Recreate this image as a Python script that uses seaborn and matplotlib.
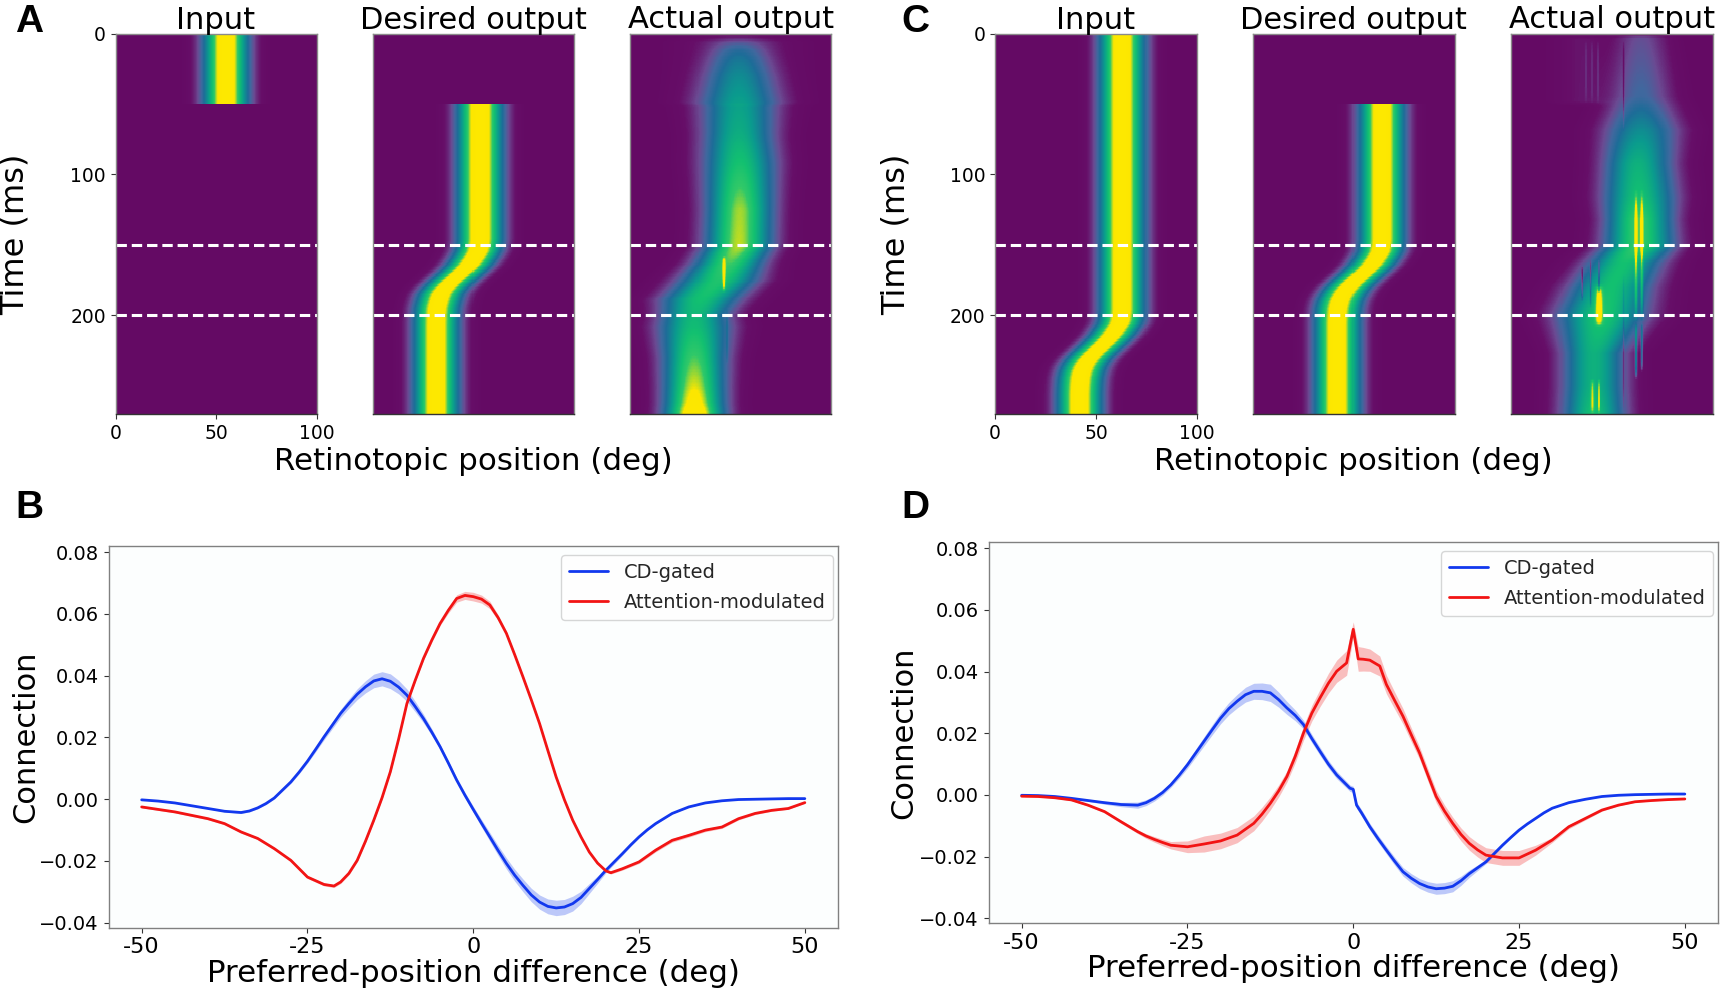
import numpy as np
import pandas as pd
import matplotlib
matplotlib.use("Agg")
import matplotlib.pyplot as plt
from matplotlib.colors import LinearSegmentedColormap
import seaborn as sns

W, H = 1723, 992
sns.set_theme(style="white")
plt.rcParams["font.family"] = "DejaVu Sans"

# ---------- line data (deg, connection) ----------
b_blue_x = [-50,-47.5,-45,-42.5,-40,-37.5,-35,-33.75,-32.5,-31.25,-30,-28.75,-27.5,-26.25,-25,-23.75,-22.5,-21.25,-20,-18.75,-17.5,-16.25,-15,-13.75,-12.5,-11.25,-10,-8.75,-7.5,-6.25,-5,-3.75,-2.5,-1.25,0,1.25,2.5,3.75,5,6.25,7.5,8.75,10,11.25,12.5,13.75,15,16.25,17.5,18.75,20,21.25,22.5,23.75,25,26.25,27.5,30,32.5,35,37.5,40,42.5,45,47.5,50]
b_blue_y = [-.0002,-.0006,-.0012,-.0021,-.0030,-.0039,-.0043,-.0038,-.0028,-.0014,.0004,.0030,.0056,.0088,.0123,.0162,.0202,.0240,.0278,.0310,.0340,.0364,.0383,.0390,.0382,.0363,.0337,.0300,.0261,.0217,.0170,.0117,.0062,.0013,-.0033,-.0078,-.0122,-.0166,-.0208,-.0246,-.0279,-.0310,-.0333,-.0347,-.0352,-.0349,-.0338,-.0318,-.0289,-.0260,-.0230,-.0203,-.0176,-.0148,-.0122,-.0099,-.0079,-.0046,-.0025,-.0012,-.0005,-.0001,.0000,.0001,.0002,.0002]
b_blue_ex = [-50,-40,-35,-30,-25,-20,-15,-12.5,-10,-5,-2.5,0,5,10,12.5,15,20,25,30,40,50]
b_blue_ev = [0,.0001,.0003,.0003,.0006,.0013,.0022,.0024,.0020,.0008,.0008,.0010,.0018,.0023,.0025,.0024,.0008,.0003,.0001,0,0]
b_red_x = [-50,-47.5,-45,-42.5,-40,-37.5,-35,-32.5,-30,-27.5,-25,-22.5,-21,-20,-18.75,-17.5,-16.25,-15,-13.75,-12.5,-11.25,-10,-8.75,-7.5,-6.25,-5,-3.75,-2.5,-1.25,0,1.25,2.5,3.75,5,6.25,7.5,8.75,10,11.25,12.5,13.75,15,16.25,17.5,18.75,20,20.75,22.5,25,27.5,30,32.5,35,37.5,40,42.5,45,47.5,50]
b_red_y = [-.0025,-.0033,-.0041,-.0052,-.0063,-.0079,-.0106,-.0127,-.0160,-.0198,-.0252,-.0276,-.0281,-.0268,-.0240,-.0198,-.0136,-.0068,.0005,.0089,.0195,.0310,.0385,.0456,.0515,.0569,.0612,.0650,.0660,.0656,.0648,.0629,.0588,.0537,.0468,.0396,.0322,.0245,.0158,.0072,-.0002,-.0068,-.0122,-.0171,-.0207,-.0232,-.0238,-.0225,-.0203,-.0165,-.0133,-.0117,-.0100,-.0090,-.0063,-.0046,-.0036,-.0030,-.0011]
b_red_ex = [-50,-30,-20,-10,-5,-2.5,0,2.5,5,10,20,30,40,50]
b_red_ev = [.0003,.0004,.0005,.0004,.0006,.0012,.0014,.0012,.0006,.0003,.0004,.0006,.0004,.0002]
d_blue_x = [-50,-47.5,-45,-42.5,-40,-37.5,-35,-32.5,-31.25,-30,-28.75,-27.5,-26.25,-25,-23.75,-22.5,-21.25,-20,-18.75,-17.5,-16.25,-15,-13.75,-12.5,-11.25,-10,-8.75,-7.5,-6.25,-5,-3.75,-2.5,-.5,0,.5,1.25,2.5,3.75,5,6.25,7.5,8.75,10,11.25,12.5,13.75,15,16.25,17.5,18.75,20,21.25,22.5,23.75,25,26.25,27.5,28.75,30,32.5,35,37.5,40,42.5,45,47.5,50]
d_blue_y = [-.0001,-.0002,-.0005,-.0011,-.0018,-.0025,-.0031,-.0033,-.0025,-.0011,.0008,.0033,.0064,.0098,.0136,.0174,.0212,.0249,.0280,.0304,.0325,.0336,.0336,.0331,.0309,.0282,.0258,.0228,.0183,.0141,.0100,.0065,.0022,.0018,-.0033,-.0058,-.0103,-.0142,-.0179,-.0215,-.0249,-.0270,-.0287,-.0298,-.0304,-.0302,-.0296,-.0278,-.0255,-.0236,-.0217,-.0190,-.0163,-.0138,-.0114,-.0094,-.0076,-.0058,-.0043,-.0025,-.0014,-.0005,-.0001,.0001,.0002,.0003,.0003]
d_blue_ex = [-50,-40,-35,-32.5,-27.5,-20,-15,-12.5,-7.5,-2.5,0,5,10,12.5,15,20,25,30,50]
d_blue_ev = [.0001,.0003,.0007,.0010,.0008,.0018,.0026,.0028,.0014,.0012,.0010,.0012,.0016,.0018,.0018,.0006,.0002,.0001,0]
d_red_x = [-50,-47.5,-45,-42.5,-40,-37.5,-35,-33.75,-32.5,-31.25,-30,-28.75,-27.5,-25,-22.5,-20,-17.5,-15,-13.75,-12.5,-11.25,-10,-8.75,-7.5,-6.25,-5,-3.75,-2.5,-1,0,.75,1.5,2.5,4,5,6.25,7.5,8.75,10,11.25,12.5,13.75,15,16.25,17.5,18.75,20,22.5,25,27.5,30,32.5,35,37.5,40,42.5,45,47.5,50]
d_red_y = [-.0004,-.0005,-.0009,-.0016,-.0033,-.0054,-.0087,-.0103,-.0119,-.0133,-.0144,-.0154,-.0163,-.0168,-.0159,-.0149,-.0130,-.0092,-.0062,-.0027,.0013,.0060,.0125,.0201,.0265,.0315,.0362,.0401,.0428,.0537,.0441,.0440,.0437,.0418,.0358,.0306,.0255,.0195,.0136,.0065,-.0005,-.0052,-.0092,-.0128,-.0157,-.0178,-.0195,-.0204,-.0204,-.0179,-.0146,-.0103,-.0076,-.0049,-.0033,-.0022,-.0018,-.0015,-.0013]
d_red_ex = [-50,-40,-32.5,-27.5,-22.5,-15,-10,-5,-2.5,-1,0,.75,2.5,5,10,15,20,25,30,40,50]
d_red_ev = [.0001,.0003,.0006,.0012,.0026,.0024,.0018,.0028,.0036,.0040,.0024,.0040,.0036,.0030,.0020,.0020,.0024,.0024,.0008,.0002,.0001]

# ---------- heat-map rows: time, centre, peak, spread ----------
a_in_t = [0, 49.5, 50.5, 270];  a_in_c = [55, 55, 55, 55];  a_in_p = [1, 1, 0, 0];  a_in_s = [7, 7, 7, 7]
a_des_t = [0, 49.5, 50.5, 146, 150, 155, 160, 165, 170, 175, 180, 185, 190, 195, 200, 206, 270]
a_des_c = [53.3, 53.3, 53.3, 53.3, 53, 52, 50, 47.5, 44, 40, 36.5, 34, 32.8, 32, 31.7, 31.6, 31.6]
a_des_p = [0, 0] + [1] * 15
a_des_s = [7] * 17
a_act_t = [0, 5, 12, 20, 30, 49, 51, 75, 92, 106, 125, 150, 163, 175, 189, 200, 208, 230, 250, 262, 270]
a_act_c = [54, 54, 54, 54, 54, 54, 54, 54, 54.5, 54.5, 54.5, 54, 49, 44, 35, 32, 32, 32, 32, 32, 32]
a_act_p = [0, .05, .18, .25, .31, .39, .45, .55, .63, .70, .78, .80, .72, .66, .62, .58, .60, .72, .82, .90, 1]
a_act_s = [9, 9, 9, 10, 11, 12.5, 12, 11.5, 11.5, 11, 10.5, 10.5, 11, 12.5, 12.5, 11, 11.5, 10, 9.5, 9.3, 9.3]
a_halo_t = [0, 6, 49, 52, 70, 270]; a_halo_c = [54] * 6; a_halo_p = [0, .09, .09, .03, 0, 0]; a_halo_s = [17] * 6
a_str_x = [46.5, 48.0]; a_str_t0 = [158, 195]; a_str_t1 = [184, 235]; a_str_a = [.30, .08]; a_str_w = [.5, .4]

c_in_t = [0, 196, 200, 205, 210, 215, 220, 225, 230, 235, 240, 245, 250, 256, 270]
c_in_c = [63, 63, 62.8, 62, 60, 57.5, 54, 50.5, 47, 44.5, 43, 42.3, 42, 41.8, 41.8]
c_in_p = [1] * 15
c_in_s = [7] * 15
c_des_t = [0, 49.5, 50.5, 146, 150, 155, 160, 165, 170, 175, 180, 185, 190, 195, 200, 206, 270]
c_des_c = [64, 64, 64, 64, 63.8, 63, 61, 58.5, 55, 51, 47.5, 45, 43.3, 42.5, 42.1, 42, 42]
c_des_p = [0, 0] + [1] * 15
c_des_s = [7] * 17
c_act_t = [0, 3, 45, 68, 92, 116, 132, 150, 163, 180, 200, 227, 250, 270]
c_act_c = [64.5, 64.5, 64.5, 64.5, 63, 63.5, 63.5, 63.5, 56, 49.5, 45, 41, 41, 41]
c_act_p = [0, .14, .22, .40, .55, .62, .72, .72, .62, .62, .65, .55, .55, .62]
c_act_s = [8, 8.5, 10, 12, 11, 11.4, 10.5, 11, 12, 13, 14, 10, 10, 10]
c_halo_t = [0, 4, 48, 52, 270]; c_halo_c = [35] * 5; c_halo_p = [0, .05, .05, 0, 0]; c_halo_s = [9] * 5
c_str_x = [62, 64.9, 62, 64.9, 55.8, 43.5, 43.5, 39.3, 35.1, 43.5, 40.2, 55.8, 37, 40, 43]
c_str_t0 = [110, 110, 205, 205, 170, 178, 160, 160, 165, 245, 245, 5, 5, 5, 5]
c_str_t1 = [205, 205, 245, 240, 270, 208, 185, 195, 190, 270, 270, 70, 50, 50, 50]
c_str_a = [.30, .30, .35, .25, -.10, .35, -.30, -.20, -.20, .35, .25, -.10, .05, .05, .06]
c_str_w = [.5, .5, .35, .35, .3, 1.2, .3, .3, .3, .3, .6, .3, .3, .3, .3]

titles = ["Input", "Desired output", "Actual output"]
t_ticks = [0, 100, 200]
pos_ticks = [0, 50, 100]
diff_ticks = [-50, -25, 0, 25, 50]
conn_ticks = [-.04, -.02, 0, .02, .04, .06, .08]
time_marks = [150, 200]

cmap = LinearSegmentedColormap.from_list("retina", [
    (0, "#640a64"), (.04, "#660e68"), (.13, "#6a4a92"), (.21, "#40689e"), (.29, "#1d6c98"),
    (.45, "#0a9a8e"), (.62, "#12c070"), (.71, "#30c868"), (.78, "#a0d830"), (.84, "#fce600"), (1, "#fde800")])

N_T, N_X = 270, 200
rows = np.arange(N_T) + .5
cols = (np.arange(N_X) + .5) / 2


def layer(t, c, p, s):
    ci, pi, si = [np.interp(rows, t, v)[:, None] for v in (c, p, s)]
    return pi * np.exp(-(cols[None, :] - ci) ** 2 / (2 * si ** 2))


def streaks(x, t0, t1, a, w):
    out = np.zeros((N_T, N_X))
    for xi, t_a, t_b, ai, wi in zip(x, t0, t1, a, w):
        mid, half = (t_a + t_b) / 2, (t_b - t_a) / 2
        taper = np.clip(1 - ((rows - mid) / half) ** 4, 0, 1)[:, None]
        out += ai * taper * np.exp(-(cols[None, :] - xi) ** 2 / (2 * wi ** 2))
    return out


def px_axes(x0, y0, x1, y1):
    return fig.add_axes([x0 / W, 1 - y1 / H, (x1 - x0) / W, (y1 - y0) / H])


fig = plt.figure(figsize=(W / 100, H / 100), dpi=100, facecolor="white")


def heat_row(x_spans, mats, letter, lx, letx):
    y0, y1 = 33.5, 414
    for i, ((a, b), m) in enumerate(zip(x_spans, mats)):
        ax = px_axes(a, y0, b, y1)
        sns.heatmap(np.clip(m, 0, 1), ax=ax, cmap=cmap, vmin=0, vmax=1, cbar=False,
                    xticklabels=False, yticklabels=False, rasterized=True)
        for s in ax.spines.values():
            s.set_visible(True); s.set_color("#8a8a8a"); s.set_linewidth(1)
        ax.spines["bottom"].set_color("#333333")
        for tm in time_marks:
            ax.axhline(tm, color="white", lw=2.2, ls=(0, (3.4, 1.6)))
        ax.set_title(titles[i], fontsize=22, pad=3.5, color="black")
        if i == 0:
            ax.set_yticks(t_ticks); ax.set_yticklabels(t_ticks, rotation=0, fontsize=13.5, color="black")
            ax.set_xticks([p * 2 for p in pos_ticks]); ax.set_xticklabels(pos_ticks, rotation=0, fontsize=13.5, color="black")
            ax.tick_params(left=True, bottom=True, length=3.5, width=.8, pad=3.5, color="#333333")
            ax.set_ylabel("Time (ms)", fontsize=23, color="black")
            ax.yaxis.set_label_coords((lx - a) / (b - a), .473)
        if i == 1:
            ax.set_xlabel("Retinotopic position (deg)", fontsize=22.2, color="black", labelpad=24)
    fig.text(letx / W, 1 - 22 / H, letter, fontsize=28, fontweight="bold",
             family="Liberation Sans", va="center", ha="left", color="black")


def line_panel(x0, y0, x1, y1, blue, red, letter, lpx, letx, lety, ylim):
    ax = px_axes(x0, y0, x1, y1)
    ax.set_facecolor("#fcfefe")
    for (x, y, ex, ev), col, name in ((blue, "#1238ee", "CD-gated"), (red, "#f21414", "Attention-modulated")):
        x, y = np.array(x), np.array(y)
        e = np.interp(x, ex, ev)
        df = pd.DataFrame({"x": x, "y": y})
        sns.lineplot(data=df, x="x", y="y", ax=ax, color=col, lw=2, label=name, errorbar=None)
        ax.fill_between(x, y - e, y + e, color=col, alpha=.27, lw=0)
    ax.set_xlim(-55, 55); ax.set_ylim(*ylim)
    ax.set_xticks(diff_ticks); ax.set_xticklabels([str(v) for v in diff_ticks], fontsize=16, color="black")
    ax.set_yticks(conn_ticks); ax.tick_params(axis="y", labelsize=14, labelcolor="black")
    ax.set_yticklabels([f"{v:.2f}".replace("-", "\u2212") for v in conn_ticks])
    ax.tick_params(left=True, bottom=True, length=3.5, width=.8, pad=3.5, color="#333333")
    for s in ax.spines.values():
        s.set_visible(True); s.set_color("#808080"); s.set_linewidth(1)
    ax.set_xlabel("Preferred-position difference (deg)", fontsize=22.2, color="black", labelpad=1)
    ax.set_ylabel("Connection", fontsize=22, color="black")
    ax.yaxis.set_label_coords((lpx - x0) / (x1 - x0), .5)
    ax.legend(loc="upper right", fontsize=14, frameon=True, framealpha=.8, labelspacing=.6,
              bbox_to_anchor=(.9935, .977), borderaxespad=0)
    fig.text(letx / W, 1 - lety / H, letter, fontsize=28, fontweight="bold", family="Liberation Sans",
             va="center", ha="left", color="black")


heat_row([(115.5, 316.5), (373, 574), (630, 831.5)],
         [layer(a_in_t, a_in_c, a_in_p, a_in_s), layer(a_des_t, a_des_c, a_des_p, a_des_s),
          layer(a_act_t, a_act_c, a_act_p, a_act_s) + layer(a_halo_t, a_halo_c, a_halo_p, a_halo_s)
          + streaks(a_str_x, a_str_t0, a_str_t1, a_str_a, a_str_w)], "A", 31, 15)
heat_row([(995, 1197), (1252.5, 1454.5), (1511, 1713)],
         [layer(c_in_t, c_in_c, c_in_p, c_in_s), layer(c_des_t, c_des_c, c_des_p, c_des_s),
          layer(c_act_t, c_act_c, c_act_p, c_act_s) + layer(c_halo_t, c_halo_c, c_halo_p, c_halo_s)
          + streaks(c_str_x, c_str_t0, c_str_t1, c_str_a, c_str_w)], "C", 912, 901)
line_panel(108.5, 546, 838, 927.7, (b_blue_x, b_blue_y, b_blue_ex, b_blue_ev), (b_red_x, b_red_y, b_red_ex, b_red_ev), "B", 40, 15, 508, (-.0416, .082))
line_panel(988.5, 542, 1718, 923.3, (d_blue_x, d_blue_y, d_blue_ex, d_blue_ev), (d_red_x, d_red_y, d_red_ex, d_red_ev), "D", 918, 901, 508, (-.0416, .082))

fig.savefig("out.png", dpi=100)
